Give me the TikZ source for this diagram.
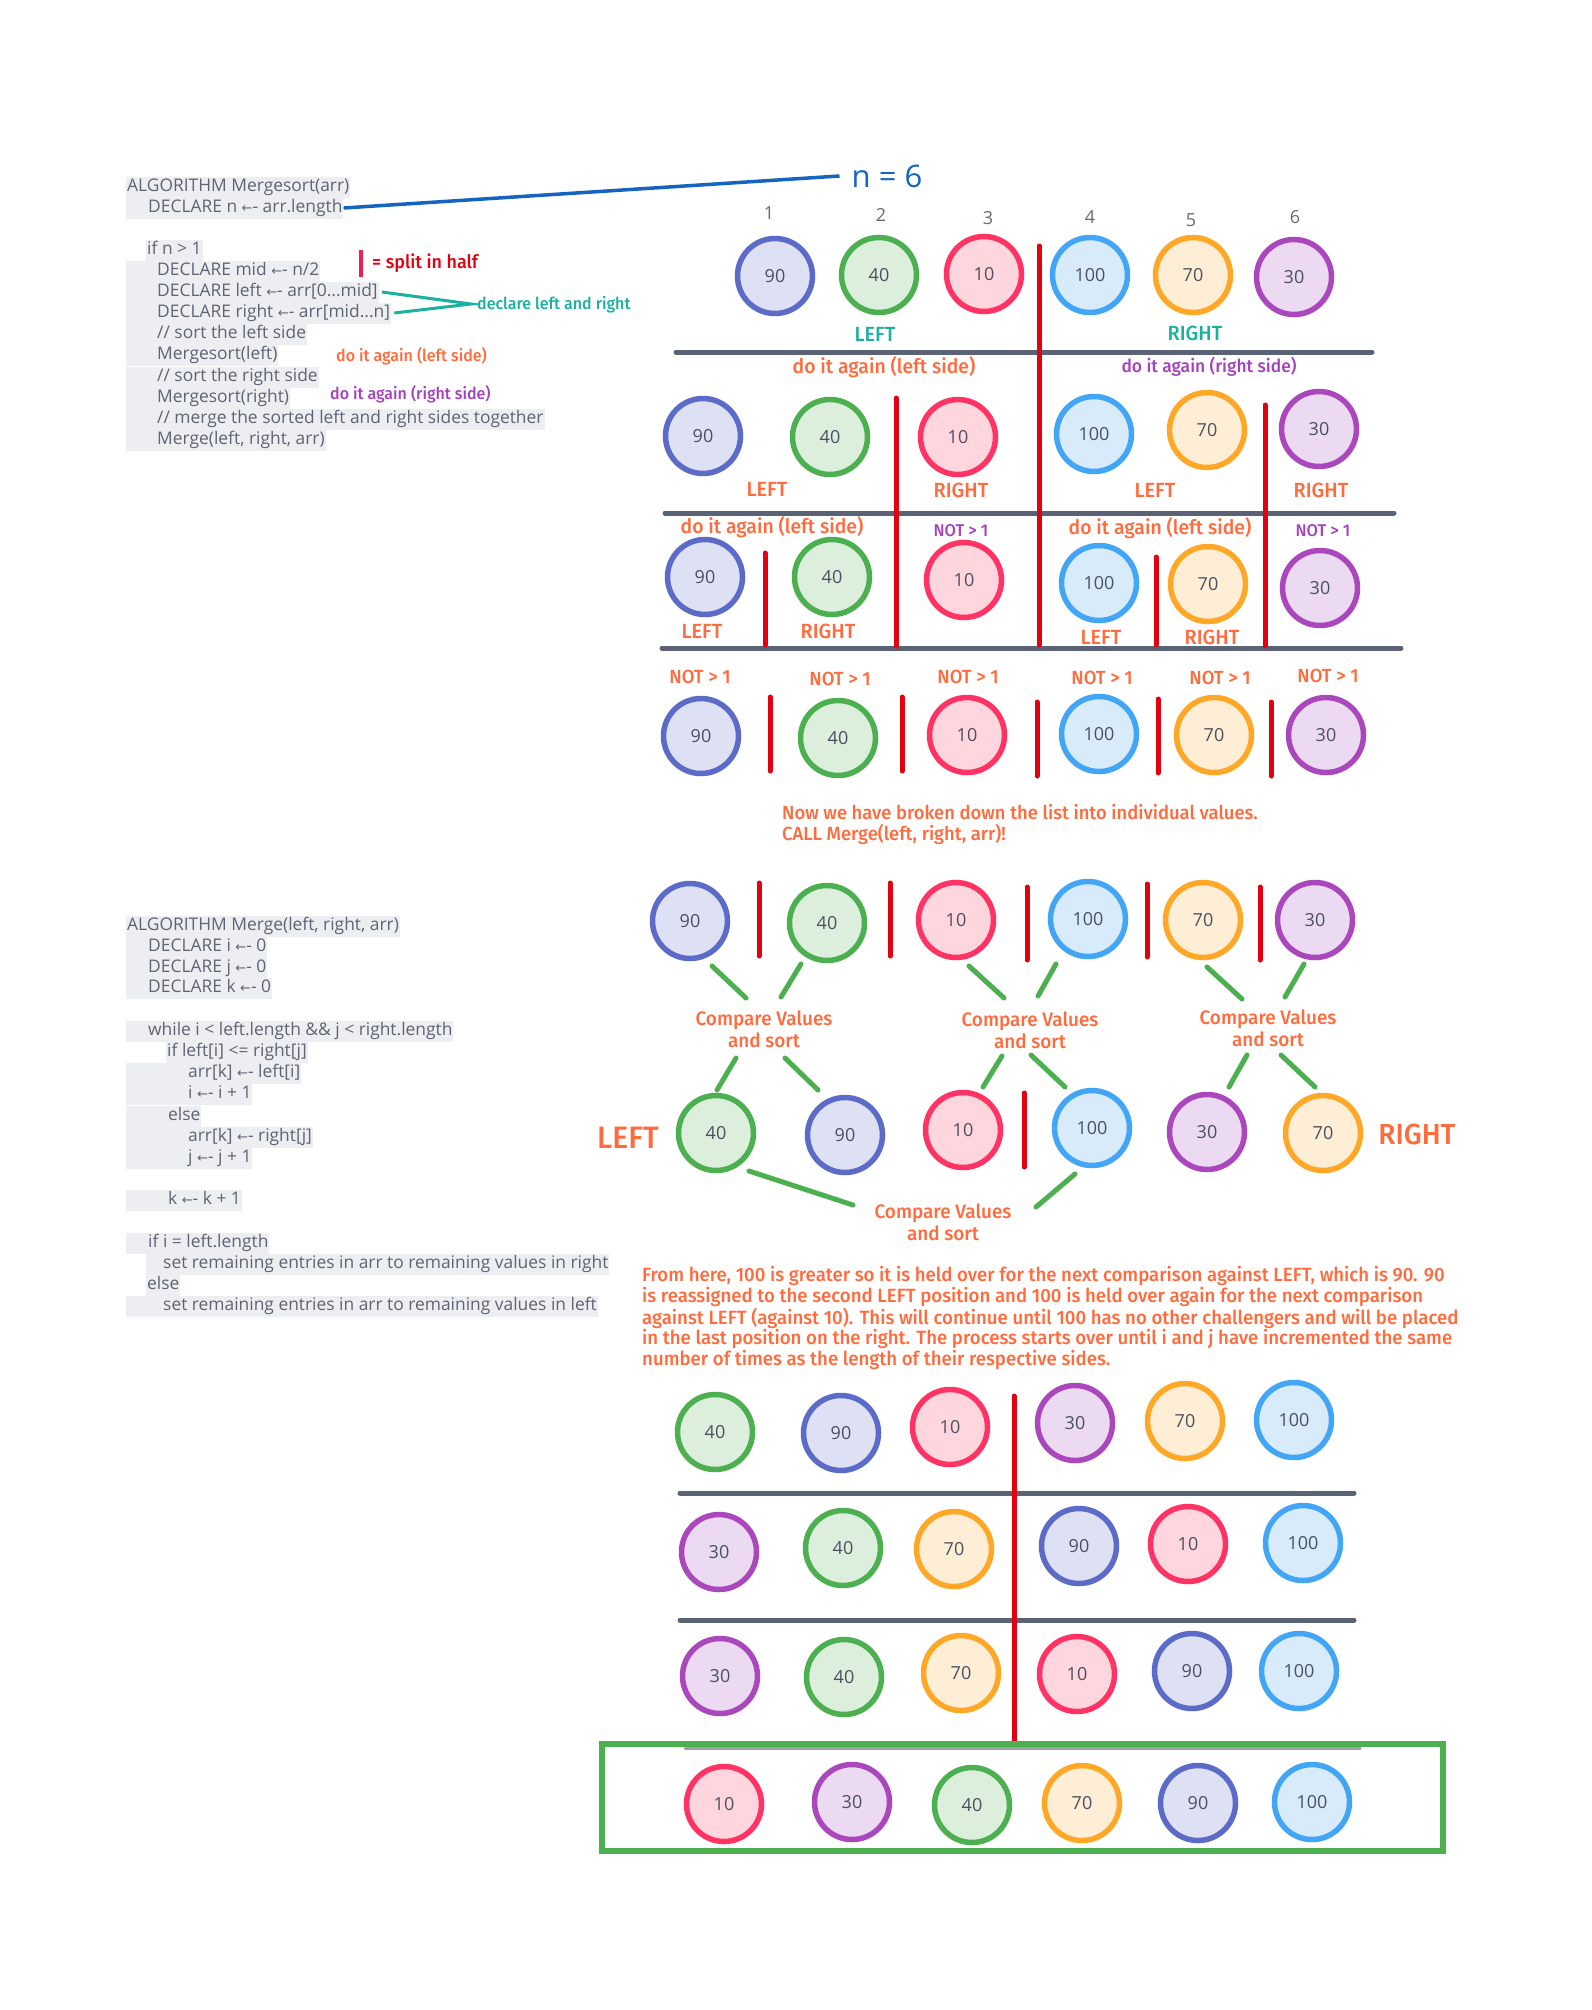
\documentclass[tikz,border=0pt]{standalone}
\usepackage{fontspec}
\setmainfont{Open Sans}
\newfontfamily\codef{Open Sans}
\newfontfamily\symf{DejaVu Sans}
\IfFontExistsTF{Fira Sans Medium}
  {\newfontfamily\labf[FakeStretch=0.97]{Fira Sans Medium}}
  {\newfontfamily\labf[FakeStretch=0.97]{Fira Sans}}
% assignment arrow used in the pseudocode
\newcommand{\getsarrow}{{\symf\fontsize{13}{13}\selectfont ←}-}
\newcommand{\lsize}[1]{\labf\fontsize{#1}{#1}\selectfont}

\definecolor{cOr}{HTML}{FF6B3D}
\definecolor{cPu}{HTML}{A442BE}
\definecolor{cTe}{HTML}{1BB0A0}
\definecolor{cRed}{HTML}{E3000F}
\definecolor{cPink}{HTML}{EA2150}
\definecolor{cGrayLine}{HTML}{5A6275}
\definecolor{cCode}{HTML}{5D6473}
\definecolor{cCodeBg}{HTML}{EDEEF1}
\definecolor{cBlue}{HTML}{1565C0}
\definecolor{cGreen}{HTML}{4CAF50}
\definecolor{cNum}{HTML}{4B5160}
\definecolor{cIdx}{HTML}{666B78}
\definecolor{s90}{HTML}{5C6BC8}\definecolor{f90}{HTML}{DEE0F4}
\definecolor{s40}{HTML}{4CAF50}\definecolor{f40}{HTML}{DCEEDC}
\definecolor{s10}{HTML}{FF3364}\definecolor{f10}{HTML}{FFD5DE}
\definecolor{s100}{HTML}{42A5F5}\definecolor{f100}{HTML}{D8EBFB}
\definecolor{s70}{HTML}{FFA726}\definecolor{f70}{HTML}{FFEED6}
\definecolor{s30}{HTML}{AB47BC}\definecolor{f30}{HTML}{EBDAF1}

\tikzset{
  ball/.style={circle, minimum size=75pt, inner sep=0pt, line width=5.5pt,
    text=cNum, font=\codef\fontsize{18}{18}\selectfont},
  v90/.style={ball, draw=s90, fill=f90},
  v40/.style={ball, draw=s40, fill=f40},
  v10/.style={ball, draw=s10, fill=f10},
  v100/.style={ball, draw=s100, fill=f100},
  v70/.style={ball, draw=s70, fill=f70},
  v30/.style={ball, draw=s30, fill=f30},
  code/.style={anchor=west, fill=cCodeBg, text=cCode,
    font=\codef\fontsize{17.4}{17.4}\selectfont, inner xsep=1pt, inner ysep=0pt,
    minimum height=21pt, text height=12.5pt, text depth=4pt},
  lab/.style={inner sep=0pt, font=\lsize{19}},
  orlab/.style={lab, text=cOr},
  pulab/.style={lab, text=cPu},
  telab/.style={lab, text=cTe},
  cmp/.style={orlab, align=center, font=\labf\fontsize{19.5}{22}\selectfont},
  idx/.style={inner sep=0pt, text=cIdx, font=\codef\fontsize{18}{18}\selectfont},
  divider/.style={draw=cGrayLine, line width=5pt, line cap=round},
  redbar/.style={draw=cRed, line width=5pt, line cap=round},
  link/.style={draw=cGreen, line width=5pt, line cap=round},
}

\begin{document}
\begin{tikzpicture}[x=1pt, y=-1pt]
\useasboundingbox (0,0) rectangle (1592,2010);
\fill[white] (0,0) rectangle (1592,2010);

% ---------- Mergesort pseudocode ----------
\node[code] (cdA) at (126,187) {ALGORITHM Mergesort(arr)};
\node[code] (cdN) at (126,208) {\hspace*{21pt}DECLARE n \getsarrow{} arr.length};
\node[code] (cdIf) at (146,250) {if n > 1};
\node[code] (cdMid) at (126,271) {\hspace*{30pt}DECLARE mid \getsarrow{} n/2};
\node[code] (cdLeft) at (126,292) {\hspace*{30pt}DECLARE left \getsarrow{} arr[0...mid]};
\node[code] (cdRight) at (126,313) {\hspace*{30pt}DECLARE right \getsarrow{} arr[mid...n]};
\node[code] (cdC1) at (126,334) {\hspace*{30pt}// sort the left side};
\node[code] (cdMl) at (126,355) {\hspace*{30pt}Mergesort(left)};
\node[code] (cdC2) at (126,377) {\hspace*{30pt}// sort the right side};
\node[code] (cdMr) at (126,398) {\hspace*{30pt}Mergesort(right)};
\node[code] (cdC3) at (126,419) {\hspace*{30pt}// merge the sorted left and right sides together};
\node[code] (cdMg) at (126,440) {\hspace*{30pt}Merge(left, right, arr)};

% legend notes beside the pseudocode
\coordinate (splitTop) at (361,250);
\coordinate (splitBot) at (361,277);
\draw[draw=cPink, line width=4pt] (splitTop) -- (splitBot);
\node[lab, anchor=west, text=cRed, font=\lsize{18.5}] (splitTxt) at (372,263) {= split in half};
\coordinate (declTip) at (471,304);
\draw[draw=cTe, line width=3pt] ([xshift=3pt]cdLeft.east) -- (declTip) -- ([xshift=3pt]cdRight.east);
\node[telab, anchor=west, font=\lsize{16.5}] (declTxt) at (477,305) {declare left and right};
\node[orlab, anchor=west, font=\lsize{16.5}] (againL) at (336,356) {do it again (left side)};
\node[pulab, anchor=west, font=\lsize{16.5}] (againR) at (330,394) {do it again (right side)};

% ---------- n = 6 ----------
\node[inner sep=0pt, text=cBlue, font=\codef\fontsize{31}{31}\selectfont] (nsix) at (887,176) {n = 6};
\draw[draw=cBlue, line width=3.5pt] (cdN.east) -- ([xshift=-12pt]nsix.west);

% ---------- split rows ----------
\foreach \t/\x/\y [count=\i] in {1/769/213, 2/881/215, 3/988/218, 4/1090/217, 5/1191/220, 6/1295/217}
  \node[idx] (ix\i) at (\x,\y) {\t};

\draw[divider] (676,352) -- (1372,352);
\draw[divider] (665,513) -- (1394,513);
\draw[divider] (662,648) -- (1401,648);

\draw[redbar] (1039,246) -- (1039,645);
\draw[redbar] (896,398) -- (896,646);
\draw[redbar] (1265,405) -- (1265,646);
\draw[redbar] (765,553) -- (765,645);
\draw[redbar] (1156,557) -- (1156,645);

\foreach \v/\x/\y [count=\i] in {90/775/276, 40/879/275, 10/984/274, 100/1090/275, 70/1193/275, 30/1294/277}
  \node[v\v] (ra\i) at (\x,\y) {\v};
\node[telab, font=\lsize{20.5}] (raL) at (875,334) {LEFT};
\node[telab, font=\lsize{20.5}] (raR) at (1195,333) {RIGHT};

\node[orlab, font=\lsize{20}] (rbHL) at (884,367) {do it again (left side)};
\node[pulab, font=\lsize{18}] (rbHR) at (1209,367) {do it again (right side)};
\foreach \v/\x/\y [count=\i] in {90/703/436, 40/830/437, 10/958/437, 100/1094/434, 70/1207/430, 30/1319/429}
  \node[v\v] (rb\i) at (\x,\y) {\v};
\node[orlab, font=\lsize{20.5}] (rbL1) at (767,489) {LEFT};
\node[orlab, font=\lsize{20.5}] (rbR1) at (961,490) {RIGHT};
\node[orlab, font=\lsize{20.5}] (rbL2) at (1155,490) {LEFT};
\node[orlab, font=\lsize{20.5}] (rbR2) at (1321,490) {RIGHT};

\node[orlab, font=\lsize{20}] (rcH1) at (772,527) {do it again (left side)};
\node[pulab, font=\lsize{17}] (rcN1) at (961,531) {NOT > 1};
\node[orlab, font=\lsize{20}] (rcH2) at (1160,528) {do it again (left side)};
\node[pulab, font=\lsize{17}] (rcN2) at (1323,531) {NOT > 1};
\foreach \v/\x/\y [count=\i] in {90/705/577, 40/832/577, 10/964/580, 100/1099/583, 70/1208/584, 30/1320/588}
  \node[v\v] (rc\i) at (\x,\y) {\v};
\node[orlab, font=\lsize{20.5}] (rcL1) at (702,631) {LEFT};
\node[orlab, font=\lsize{20.5}] (rcR1) at (828,631) {RIGHT};
\node[orlab, font=\lsize{20.5}] (rcL2) at (1101,637) {LEFT};
\node[orlab, font=\lsize{20.5}] (rcR2) at (1212,637) {RIGHT};

\foreach \x/\y [count=\i] in {700/677, 840/679, 968/677, 1102/678, 1220/678, 1328/676}
  \node[orlab] (rdN\i) at (\x,\y) {NOT > 1};
\foreach \v/\x/\y [count=\i] in {90/701/736, 40/838/738, 10/967/735, 100/1099/734, 70/1214/735, 30/1326/735}
  \node[v\v] (rd\i) at (\x,\y) {\v};
\foreach \x/\a/\b in {770/697/771, 902/697/771, 1037/702/776, 1158/699/773, 1271/702/776}
  \draw[redbar] (\x,\a) -- (\x,\b);

\node[orlab, anchor=west] (nowA) at (782,812) {Now we have broken down the list into individual values.};
\node[orlab, anchor=west] (nowB) at (782,834) {CALL Merge(left, right, arr)!};

% ---------- Merge pseudocode ----------
\node[code] (mA) at (126,926) {ALGORITHM Merge(left, right, arr)};
\node[code] (mI) at (126,947) {\hspace*{21pt}DECLARE i \getsarrow{} 0};
\node[code] (mJ) at (126,968) {\hspace*{21pt}DECLARE j \getsarrow{} 0};
\node[code] (mK) at (126,988) {\hspace*{21pt}DECLARE k \getsarrow{} 0};
\node[code] (mW) at (126,1031) {\hspace*{21pt}while i < left.length \&\& j < right.length};
\node[code] (mIf) at (166,1052) {if left[i] <= right[j]};
\node[code] (mL1) at (126,1073) {\hspace*{61pt}arr[k] \getsarrow{} left[i]};
\node[code] (mL2) at (126,1094) {\hspace*{61pt}i \getsarrow{} i + 1};
\node[code] (mE) at (126,1116) {\hspace*{41pt}else};
\node[code] (mR1) at (126,1137) {\hspace*{61pt}arr[k] \getsarrow{} right[j]};
\node[code] (mR2) at (126,1158) {\hspace*{61pt}j \getsarrow{} j + 1};
\node[code] (mKk) at (126,1200) {\hspace*{41pt}k \getsarrow{} k + 1};
\node[code] (mIf2) at (126,1243) {\hspace*{21pt}if i = left.length};
\node[code] (mS1) at (146,1264) {\hspace*{16pt}set remaining entries in arr to remaining values in right};
\node[code] (mE2) at (146,1285) {else};
\node[code] (mS2) at (126,1306) {\hspace*{36pt}set remaining entries in arr to remaining values in left};

% ---------- merge rows ----------
\foreach \v/\x/\y [count=\i] in {90/690/921, 40/827/923, 10/956/920, 100/1088/919, 70/1203/920, 30/1315/920}
  \node[v\v] (re\i) at (\x,\y) {\v};
\foreach \x/\a/\b in {759/883/956, 890/883/956, 1027/887/960, 1147/884/957, 1260/887/960}
  \draw[redbar] (\x,\a) -- (\x,\b);

\node[cmp] (cmp1) at (764,1029) {Compare Values\\and sort};
\node[cmp] (cmp2) at (1030,1030) {Compare Values\\and sort};
\node[cmp] (cmp3) at (1268,1028) {Compare Values\\and sort};
\node[cmp] (cmp4) at (943,1222) {Compare Values\\and sort};

\foreach \n/\ax/\ay/\bx/\by in {
  a/712/966/746/998, b/801/964/781/997, c/969/966/1004/998, d/1056/964/1038/996,
  e/1207/967/1242/999, f/1304/964/1285/997,
  g/736/1058/717/1090, h/785/1058/818/1090, i/1002/1056/983/1087, j/1031/1055/1065/1087,
  k/1247/1055/1229/1087, l/1281/1055/1315/1087,
  m/749/1171/853/1205, n/1075/1174/1036/1207}
{
  \coordinate (lk\n s) at (\ax,\ay);
  \coordinate (lk\n e) at (\bx,\by);
  \draw[link] (lk\n s) -- (lk\n e);
}

\node[orlab, font=\lsize{31}] (bigL) at (628,1138) {LEFT};
\node[orlab, font=\lsize{29}] (bigR) at (1417,1134) {RIGHT};
\foreach \v/\x/\y [count=\i] in {40/716/1133, 90/845/1135, 10/963/1130, 100/1092/1128, 30/1207/1132, 70/1323/1133}
  \node[v\v] (rf\i) at (\x,\y) {\v};
\draw[redbar] (1024,1093) -- (1024,1167);

% explanation
\begin{scope}[every node/.style={orlab, anchor=west, font=\lsize{19.2}}]
\node (pA) at (642,1276) {From here, 100 is greater so it is held over for the next comparison against LEFT, which is 90. 90};
\node (pB) at (642,1297) {is reassigned to the second LEFT position and 100 is held over again for the next comparison};
\node (pC) at (642,1318) {against LEFT (against 10). This will continue until 100 has no other challengers and will be placed};
\node (pD) at (642,1339) {in the last position on the right. The process starts over until i and j have incremented the same};
\node (pE) at (642,1360) {number of times as the length of their respective sides.};
\end{scope}

% ---------- final passes ----------
\draw[divider] (680,1493) -- (1354,1493);
\draw[divider] (680,1620) -- (1354,1620);
\draw[draw=cGrayLine!60, line width=3pt, line cap=round] (685,1748) -- (1360,1748);
\draw[redbar] (1014,1396) -- (1014,1742);

\foreach \v/\x/\y [count=\i] in {40/715/1432, 90/841/1433, 10/950/1427, 30/1075/1423, 70/1185/1421, 100/1294/1420}
  \node[v\v] (rg\i) at (\x,\y) {\v};
\foreach \v/\x/\y [count=\i] in {30/719/1552, 40/843/1548, 70/954/1549, 90/1079/1546, 10/1188/1544, 100/1303/1543}
  \node[v\v] (rh\i) at (\x,\y) {\v};
\foreach \v/\x/\y [count=\i] in {30/720/1676, 40/844/1677, 70/961/1673, 10/1077/1674, 90/1192/1671, 100/1299/1671}
  \node[v\v] (ri\i) at (\x,\y) {\v};

\draw[draw=cGreen, line width=5.5pt] (602,1744) rectangle (1443,1851);
\foreach \v/\x/\y [count=\i] in {10/724/1804, 30/852/1802, 40/972/1805, 70/1082/1803, 90/1198/1803, 100/1312/1802}
  \node[v\v] (rj\i) at (\x,\y) {\v};
\end{tikzpicture}
\end{document}
